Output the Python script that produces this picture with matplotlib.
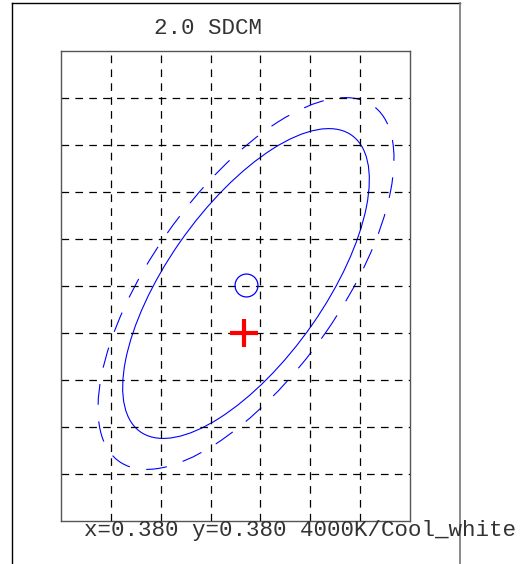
import matplotlib
matplotlib.use('Agg')
import matplotlib.pyplot as plt
from matplotlib.patches import Ellipse
from matplotlib.lines import Line2D

plt.rcParams['lines.scale_dashes'] = False

# chart values, in grid units (7 x 10 grid)
title_text = '2.0 SDCM'
info_text = 'x=0.380 y=0.380 4000K/Cool_white'
x_grid = [1, 2, 3, 4, 5, 6]
y_grid = [1, 2, 3, 4, 5, 6, 7, 8, 9]
ellipse_center = [3.71, 5.05]
ellipse_axes = [3.80, 1.59]      # semi-major, semi-minor
ellipse_angle = 56.7
outer_scale = 1.2                # dashed ellipse
target_point = [3.66, 4.0]       # red cross
center_point = [3.71, 5.02]      # blue circle

fig = plt.figure(figsize=(5.31, 5.64), dpi=100)
ax = fig.add_axes([0.1149, 0.0762, 0.6573, 0.8339])

ax.set_xlim(0, 7)
ax.set_ylim(0, 10)
ax.set_xticks(x_grid)
ax.set_yticks(y_grid)
ax.tick_params(length=0, labelbottom=False, labelleft=False)
ax.grid(True, color='black', lw=0.9, ls=(0, (5.5, 4.5)))
for s in ax.spines.values():
    s.set_color('#555555')
    s.set_linewidth(1.0)

# solid ellipse
ax.add_patch(Ellipse(ellipse_center, 2*ellipse_axes[0], 2*ellipse_axes[1],
                     angle=ellipse_angle, fill=False, ec='#0000ff', lw=0.8))
# dashed ellipse
ax.add_patch(Ellipse(ellipse_center, 2*ellipse_axes[0]*outer_scale,
                     2*ellipse_axes[1]*outer_scale, angle=ellipse_angle,
                     fill=False, ec='#0000ff', lw=0.8, ls=(0, (15, 12))))

ax.plot([center_point[0]], [center_point[1]], 'o', ms=16.5, mfc='none',
        mec='#0000ff', mew=0.9)
ax.plot([target_point[0]], [target_point[1]], '+', ms=20, mew=3, color='red')

# outer frame
fig.add_artist(Line2D([11.8/531, 11.8/531], [-0.1, 1-3.4/564], color='black', lw=1.0))
fig.add_artist(Line2D([11.8/531, 460/531], [1-3.4/564, 1-3.4/564], color='black', lw=1.0))
fig.add_artist(Line2D([460/531, 460/531], [-0.1, 1-3.4/564], color='#777777', lw=1.2))

fig.text(208.5/531, 1-28/564, title_text, family='Liberation Mono', fontsize=16.2,
         color='#333333', ha='center', va='center')
fig.text(83.6/531, 1-536.4/564, info_text, family='Liberation Mono', fontsize=16.2,
         color='#333333', ha='left', va='baseline')

fig.savefig('out.png', dpi=100)
